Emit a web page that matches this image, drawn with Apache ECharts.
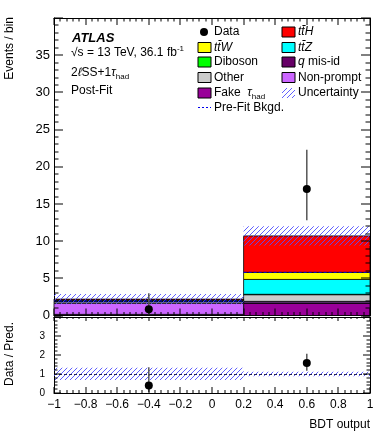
<!DOCTYPE html>
<html>
<head>
<meta charset="utf-8">
<script src="https://cdn.jsdelivr.net/npm/echarts@6/dist/echarts.min.js"></script>
<style>
html,body{margin:0;padding:0;background:#fff;}
#chartPanel{width:390px;height:440px;}
</style>
</head>
<body>
<div id="chartPanel"></div>
<script>
// BDT output bins
var binLo = [-1, 0.2];
var binHi = [0.2, 1];
var binCenter = [-0.4, 0.6];

// post-fit stack, bottom to top
var fakeTau = [0.1, 1.65];
var qMisId = [0.05, 0.05];
var nonPrompt = [1.5, 0.2];
var other = [0.2, 0.9];
var diboson = [0.05, 0.05];
var ttZ = [0.1, 2.0];
var ttW = [0.1, 0.95];
var ttH = [0.1, 4.9];
var uncert = [0.68, 1.3];
var preFitBkg = [1.95, 5.8];

// data
var dataVal = [0.85, 17];
var dataLo = [0.1, 12.8];
var dataHi = [3.0, 22.3];

// ratio panel
var ratio = [0.4, 1.58];
var ratioLo = [0.05, 1.17];
var ratioHi = [1.35, 2.07];
var ratioBandLo = [0.68, 0.88];
var ratioBandHi = [1.33, 1.12];
var unity = 1;

// axis ticks
var xTicks = [-1, -0.8, -0.6, -0.4, -0.2, 0, 0.2, 0.4, 0.6, 0.8, 1];
var yTicksTop = [0, 5, 10, 15, 20, 25, 30, 35, 40];
var yTicksRatio = [0, 1, 2, 3, 4];

var font = '"Liberation Sans", Arial, sans-serif';

function makeHatch() {
  var c = document.createElement('canvas');
  c.width = 5; c.height = 5;
  var g = c.getContext('2d');
  g.strokeStyle = 'rgba(80,80,255,0.9)';
  g.lineWidth = 1;
  g.beginPath();
  g.moveTo(0, 5); g.lineTo(5, 0);
  g.moveTo(-1, 1); g.lineTo(1, -1);
  g.moveTo(4, 6); g.lineTo(6, 4);
  g.stroke();
  return c;
}
var hatch = {image: makeHatch(), repeat: 'repeat'};

function histRect(params, api) {
  var p0 = api.coord([api.value(0), api.value(2)]);
  var p1 = api.coord([api.value(1), api.value(3)]);
  return {
    type: 'rect',
    shape: {x: p0[0], y: p1[1], width: p1[0] - p0[0], height: p0[1] - p1[1]},
    style: {fill: api.visual('color'), stroke: '#000', lineWidth: 0.8}
  };
}
function hatchRect(params, api) {
  var p0 = api.coord([api.value(0), api.value(2)]);
  var p1 = api.coord([api.value(1), api.value(3)]);
  return {
    type: 'rect',
    shape: {x: p0[0], y: p1[1], width: p1[0] - p0[0], height: p0[1] - p1[1]},
    style: {fill: hatch}
  };
}
function dashSeg(params, api) {
  var p0 = api.coord([api.value(0), api.value(2)]);
  var p1 = api.coord([api.value(1), api.value(2)]);
  return {
    type: 'line',
    shape: {x1: p0[0], y1: p0[1], x2: p1[0], y2: p1[1]},
    style: {stroke: '#0000ee', lineWidth: 1, lineDash: [3, 2]}
  };
}
function pointItem(params, api) {
  var c = api.coord([api.value(0), api.value(1)]);
  var lo = api.coord([api.value(0), api.value(2)]);
  var hi = api.coord([api.value(0), api.value(3)]);
  return {type: 'group', children: [
    {type: 'line', shape: {x1: c[0], y1: lo[1], x2: c[0], y2: hi[1]}, style: {stroke: '#555', lineWidth: 1.5}},
    {type: 'circle', shape: {cx: c[0], cy: c[1], r: 4}, style: {fill: '#000'}}
  ]};
}

// ROOT-style inward ticks: one data item per tick, drawn as 1px black rects
function withMinor(major, n) {
  var out = [];
  for (var i = 0; i < major.length - 1; i++) {
    var step = (major[i + 1] - major[i]) / n;
    for (var k = 1; k < n; k++) out.push(major[i] + k * step);
  }
  return out;
}
function xTickItem(ya, yb) {
  return function (params, api) {
    var b = api.coord([api.value(0), ya]);
    var t = api.coord([api.value(0), yb]);
    var x = Math.round(b[0]) - 0.5, lb = api.value(2), lt = api.value(3);
    var kids = [{type: 'rect', shape: {x: x, y: b[1] - lb, width: 1, height: lb}, style: {fill: '#000'}}];
    if (lt > 0) kids.push({type: 'rect', shape: {x: x, y: t[1], width: 1, height: lt}, style: {fill: '#000'}});
    return {type: 'group', children: kids};
  };
}
function yTickItem(xa, xb) {
  return function (params, api) {
    var a = api.coord([xa, api.value(1)]);
    var b = api.coord([xb, api.value(1)]);
    var y = Math.round(a[1]) - 0.5, l = api.value(2);
    return {type: 'group', children: [
      {type: 'rect', shape: {x: a[0], y: y, width: l, height: 1}, style: {fill: '#000'}},
      {type: 'rect', shape: {x: b[0] - l, y: y, width: l, height: 1}, style: {fill: '#000'}}
    ]};
  };
}
function tickSeries(axisIdx, xs, ys, len) {
  var xa = xs[0], xb = xs[xs.length - 1], ya = ys[0], yb = ys[ys.length - 1];
  var xRows = xs.map(function (v) { return [v, ya, len.xb, len.xt]; })
    .concat(withMinor(xs, 5).map(function (v) { return [v, ya, len.xb / 2, len.xt / 2]; }));
  var yRows = ys.map(function (v) { return [xa, v, len.y]; })
    .concat(withMinor(ys, 5).map(function (v) { return [xa, v, len.y / 2]; }));
  return [
    {type: 'custom', xAxisIndex: axisIdx, yAxisIndex: axisIdx, z: 8, silent: true,
      encode: {x: 0, y: 1}, renderItem: xTickItem(ya, yb), data: xRows},
    {type: 'custom', xAxisIndex: axisIdx, yAxisIndex: axisIdx, z: 8, silent: true,
      encode: {x: 0, y: 1}, renderItem: yTickItem(xa, xb), data: yRows}
  ];
}

var stackDefs = [
  {name: 'Fake', vals: fakeTau, color: '#990099'},
  {name: 'qmisid', vals: qMisId, color: '#660066'},
  {name: 'Non-prompt', vals: nonPrompt, color: '#cc66ff'},
  {name: 'Other', vals: other, color: '#cccccc'},
  {name: 'Diboson', vals: diboson, color: '#00ff00'},
  {name: 'ttZ', vals: ttZ, color: '#00ffff'},
  {name: 'ttW', vals: ttW, color: '#ffff00'},
  {name: 'ttH', vals: ttH, color: '#ff0000'}
];
var base = binLo.map(function () { return 0; });
var series = stackDefs.map(function (s) {
  var rows = binLo.map(function (lo, i) {
    return [lo, binHi[i], base[i], base[i] + s.vals[i]];
  });
  binLo.forEach(function (lo, i) { base[i] += s.vals[i]; });
  return {type: 'custom', name: s.name, xAxisIndex: 0, yAxisIndex: 0, renderItem: histRect,
    itemStyle: {color: s.color}, encode: {x: [0, 1], y: [2, 3]}, data: rows, z: 2};
});
var total = base.slice();

series.push({type: 'custom', xAxisIndex: 0, yAxisIndex: 0, renderItem: hatchRect, encode: {x: [0, 1], y: [2, 3]}, z: 3,
  data: binLo.map(function (lo, i) { return [lo, binHi[i], total[i] - uncert[i], total[i] + uncert[i]]; })});
series.push({type: 'custom', xAxisIndex: 0, yAxisIndex: 0, renderItem: dashSeg, encode: {x: [0, 1], y: 2}, z: 4,
  data: binLo.map(function (lo, i) { return [lo, binHi[i], preFitBkg[i]]; })});
series.push({type: 'custom', xAxisIndex: 0, yAxisIndex: 0, renderItem: pointItem, encode: {x: 0, y: [1, 2, 3]}, z: 5,
  data: binCenter.map(function (x, i) { return [x, dataVal[i], dataLo[i], dataHi[i]]; })});

// ratio
series.push({type: 'custom', xAxisIndex: 2, yAxisIndex: 2, renderItem: hatchRect, encode: {x: [0, 1], y: [2, 3]}, z: 3,
  data: binLo.map(function (lo, i) { return [lo, binHi[i], ratioBandLo[i], ratioBandHi[i]]; }),
  markLine: {silent: true, symbol: 'none', label: {show: false},
    lineStyle: {color: '#222255', type: [3, 2], width: 1}, data: [{yAxis: unity}]}});
series.push({type: 'custom', xAxisIndex: 2, yAxisIndex: 2, renderItem: pointItem, encode: {x: 0, y: [1, 2, 3]}, z: 5,
  data: binCenter.map(function (x, i) { return [x, ratio[i], ratioLo[i], ratioHi[i]]; })});

series = series.concat(tickSeries(0, xTicks, yTicksTop, {xb: 7, xt: 7, y: 9}))
  .concat(tickSeries(2, xTicks, yTicksRatio, {xb: 6, xt: 4, y: 7}));

function fmtX(v) {
  var a = Math.abs(parseFloat(v.toFixed(1)));
  return (v < -1e-6 ? '\u2212' : '') + a;
}
function xAx(grid, pos, showLabel) {
  return {type: 'value', gridIndex: grid, position: pos, min: xTicks[0], max: xTicks[xTicks.length - 1], interval: 0.2,
    axisLine: {show: true, onZero: false, lineStyle: {color: '#000', width: 1}},
    axisTick: {show: false}, minorTick: {show: false},
    axisLabel: {show: showLabel, formatter: fmtX, color: '#000', fontFamily: font, fontSize: 12, margin: 6,
      showMinLabel: true, showMaxLabel: true},
    splitLine: {show: false}};
}
function yAx(grid, pos, showLabel, ticks, fs, margin) {
  var top = ticks[ticks.length - 1];
  return {type: 'value', gridIndex: grid, position: pos, min: ticks[0], max: top, interval: ticks[1] - ticks[0],
    axisLine: {show: true, onZero: false, lineStyle: {color: '#000', width: 1}},
    axisTick: {show: false}, minorTick: {show: false},
    axisLabel: {show: showLabel, color: '#000', fontFamily: font, fontSize: fs, margin: margin,
      formatter: function (v) { return v >= top ? '' : String(v); }},
    splitLine: {show: false}};
}

// legend + labels
var graphics = [];
function txt(x, y, text, o) {
  o = o || {};
  graphics.push({type: 'text', x: x, y: y, rotation: o.rot || 0, z: 10,
    style: {text: text, fill: '#000', font: (o.font || '12px ' + font), textAlign: o.align || 'left',
      textVerticalAlign: 'middle', rich: o.rich}});
}
function box(x, y, fill, stroke) {
  graphics.push({type: 'rect', z: 10, shape: {x: x, y: y - 5, width: 13, height: 10},
    style: {fill: fill, stroke: stroke === false ? null : '#000', lineWidth: 1}});
}
var rich = {
  n: {fontSize: 12, fontFamily: font, lineHeight: 16},
  i: {fontSize: 12, fontFamily: font, fontStyle: 'italic', lineHeight: 16},
  sub: {fontSize: 8, fontFamily: font, lineHeight: 9, verticalAlign: 'bottom'},
  sup: {fontSize: 8, fontFamily: font, lineHeight: 8, verticalAlign: 'top'}
};
txt(72, 38, 'ATLAS', {font: 'italic bold 13px ' + font});
txt(71, 53, '{n|\u221As = 13 TeV, 36.1 fb}{sup|-1}', {rich: rich});
txt(71, 73, '{n|2}{i|\u2113}{n|SS+1}{i|\u03C4}{sub|had}', {rich: rich});
txt(71, 91, 'Post-Fit');

var col1 = 198, col2 = 282, rows = [32, 47.5, 62, 77.5, 93, 107.5];
graphics.push({type: 'circle', z: 10, shape: {cx: col1 + 6, cy: rows[0], r: 4}, style: {fill: '#000'}});
txt(col1 + 16, rows[0], 'Data');
box(col1, rows[1], '#ffff00'); txt(col1 + 16, rows[1], '{i|tt\u0304W}', {rich: rich});
box(col1, rows[2], '#00ff00'); txt(col1 + 16, rows[2], 'Diboson');
box(col1, rows[3], '#cccccc'); txt(col1 + 16, rows[3], 'Other');
box(col1, rows[4], '#990099'); txt(col1 + 16, rows[4], '{n|Fake  }{i|\u03C4}{sub|had}', {rich: rich});
graphics.push({type: 'line', z: 10, shape: {x1: col1, y1: rows[5], x2: col1 + 13, y2: rows[5]},
  style: {stroke: '#0000ee', lineWidth: 1, lineDash: [2, 2]}});
txt(col1 + 16, rows[5], 'Pre-Fit Bkgd.');
box(col2, rows[0], '#ff0000'); txt(col2 + 16, rows[0], '{i|tt\u0304H}', {rich: rich});
box(col2, rows[1], '#00ffff'); txt(col2 + 16, rows[1], '{i|tt\u0304Z}', {rich: rich});
box(col2, rows[2], '#660066'); txt(col2 + 16, rows[2], '{i|q}{n| mis-id}', {rich: rich});
box(col2, rows[3], '#cc66ff'); txt(col2 + 16, rows[3], 'Non-prompt');
box(col2, rows[4], hatch, false); txt(col2 + 16, rows[4], 'Uncertainty');

txt(10, 17, 'Events / bin', {rot: Math.PI / 2, align: 'right'});
txt(10, 354, 'Data / Pred.', {rot: Math.PI / 2, align: 'center'});
txt(370, 425, 'BDT output', {align: 'right'});

var chartPanel = echarts.init(document.getElementById('chartPanel'), null, {renderer: 'canvas'});
chartPanel.setOption({
  animation: false,
  backgroundColor: '#fff',
  grid: [
    {left: 54, right: 20, top: 18, height: 297.5},
    {left: 54, right: 20, top: 317, height: 76}
  ],
  xAxis: [
    xAx(0, 'bottom', false),
    xAx(0, 'top', false),
    xAx(1, 'bottom', true),
    xAx(1, 'top', false)
  ],
  yAxis: [
    yAx(0, 'left', true, yTicksTop, 13, 4),
    yAx(0, 'right', false, yTicksTop, 13, 4),
    yAx(1, 'left', true, yTicksRatio, 10, 9),
    yAx(1, 'right', false, yTicksRatio, 10, 9)
  ],
  graphic: graphics,
  series: series
});
</script>
</body>
</html>
